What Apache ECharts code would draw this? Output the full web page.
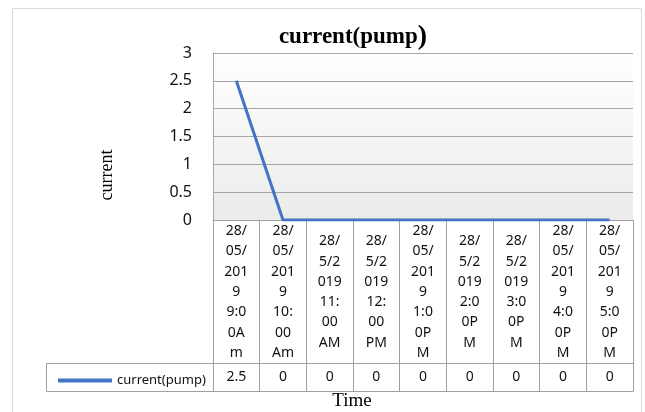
<!DOCTYPE html>
<html>
<head>
<meta charset="utf-8">
<script src="https://cdn.jsdelivr.net/npm/echarts@6/dist/echarts.min.js"></script>
<style>html,body{margin:0;padding:0;background:#fff;}#c{width:645px;height:412px;}</style>
</head>
<body>
<div id="c"></div>
<script>
var chartTitle = 'current(pump';
var seriesName = 'current(pump)';
var categories = [
  '28/\n05/\n201\n9\n9:0\n0A\nm',
  '28/\n05/\n201\n9\n10:\n00\nAm',
  '28/\n5/2\n019\n11:\n00\nAM',
  '28/\n5/2\n019\n12:\n00\nPM',
  '28/\n05/\n201\n9\n1:0\n0P\nM',
  '28/\n5/2\n019\n2:0\n0P\nM',
  '28/\n5/2\n019\n3:0\n0P\nM',
  '28/\n05/\n201\n9\n4:0\n0P\nM',
  '28/\n05/\n201\n9\n5:0\n0P\nM'
];
var values = [2.5, 0, 0, 0, 0, 0, 0, 0, 0];
var yTicks = [0, 0.5, 1, 1.5, 2, 2.5, 3];
var yTitle = 'current';
var xTitle = 'Time';

var gridLine = '#a6a6a6';
var tableLine = '#a0a0a0';
var chart = echarts.init(document.getElementById('c'), null, {renderer: 'canvas'});
chart.setOption({
  animation: false,
  title: {
    text: '{a|' + chartTitle + '}{b|)}',
    left: 348, top: 18, textAlign: 'center',
    textStyle: {
      rich: {
        a: {fontFamily: 'Liberation Serif', fontWeight: 'bold', fontSize: 23, color: '#000'},
        b: {fontFamily: 'Liberation Serif', fontWeight: 'bold', fontSize: 28, color: '#000'}
      }
    }
  },
  legend: {
    show: true, left: 53, top: 369, icon: 'rect', itemWidth: 54, itemHeight: 4, itemGap: 5,
    textStyle: {fontFamily: 'Noto Sans', fontSize: 13, color: '#111'},
    data: [seriesName]
  },
  grid: {
    left: 213, right: 12, top: 53, bottom: 192, show: true, borderWidth: 0,
    backgroundColor: new echarts.graphic.LinearGradient(0, 0, 0, 1, [
      {offset: 0, color: '#ffffff'}, {offset: 1, color: '#ebebeb'}
    ])
  },
  xAxis: [{
    type: 'category', data: categories, boundaryGap: true,
    axisLine: {show: true, lineStyle: {color: tableLine, width: 1}},
    axisTick: {show: true, interval: 0, length: 171, lineStyle: {color: tableLine, width: 1}},
    axisLabel: {interval: 0, margin: 72, verticalAlign: 'middle', lineHeight: 20.3,
      fontFamily: 'Noto Sans', fontSize: 14, color: '#111'},
    splitLine: {show: false}
  }, {
    type: 'category', data: categories, boundaryGap: true, position: 'bottom', offset: 143,
    axisLine: {show: true, lineStyle: {color: tableLine, width: 1}},
    axisTick: {show: false},
    axisLabel: {interval: 0, margin: 14, verticalAlign: 'middle',
      fontFamily: 'Noto Sans', fontSize: 14, color: '#111',
      formatter: function (v, i) { return String(values[i]); }},
    splitLine: {show: false}
  }],
  yAxis: {
    type: 'value', min: yTicks[0], max: yTicks[yTicks.length - 1], interval: 0.5,
    axisLine: {show: true, lineStyle: {color: gridLine, width: 1}},
    axisTick: {show: false},
    axisLabel: {margin: 21, fontFamily: 'Noto Sans', fontSize: 16, color: '#111'},
    splitLine: {show: true, lineStyle: {color: gridLine, width: 1}}
  },
  series: [{
    name: seriesName, type: 'line', data: values, xAxisIndex: 0,
    showSymbol: false, symbol: 'none',
    lineStyle: {color: '#4472C4', width: 3}, itemStyle: {color: '#4472C4'}
  }],
  graphic: [
    {type: 'rect', shape: {x: 12.5, y: 8.5, width: 629, height: 420}, style: {fill: 'none', stroke: '#d9d9d9', lineWidth: 1}, z: -1},
    {type: 'line', shape: {x1: 46.5, y1: 363.5, x2: 213, y2: 363.5}, style: {stroke: tableLine, lineWidth: 1}},
    {type: 'line', shape: {x1: 46.5, y1: 391.5, x2: 633.5, y2: 391.5}, style: {stroke: tableLine, lineWidth: 1}},
    {type: 'line', shape: {x1: 46.5, y1: 363.5, x2: 46.5, y2: 391.5}, style: {stroke: tableLine, lineWidth: 1}},
    {type: 'text', x: 107, y: 175, rotation: Math.PI / 2,
      style: {text: yTitle, font: '18px "Liberation Serif"', fill: '#000', textAlign: 'center', textVerticalAlign: 'middle'}},
    {type: 'text', x: 352, y: 401,
      style: {text: xTitle, font: '19px "Liberation Serif"', fill: '#000', textAlign: 'center', textVerticalAlign: 'middle'}}
  ]
});
</script>
</body>
</html>
